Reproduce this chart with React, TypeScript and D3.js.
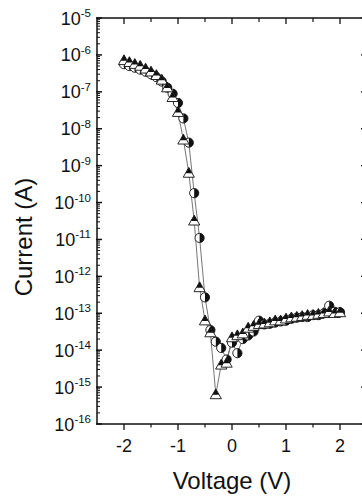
import * as d3 from 'd3'

// bias sweep (V) shared by both sweeps
const voltage = [
  -2.0, -1.9, -1.8, -1.7, -1.6, -1.5, -1.4, -1.3, -1.2, -1.1, -1.0,
  -0.9, -0.8, -0.7, -0.6, -0.5, -0.4, -0.3, -0.2, -0.1, 0.0,
  0.1, 0.2, 0.3, 0.4, 0.5, 0.6, 0.7, 0.8, 0.9, 1.0,
  1.1, 1.2, 1.3, 1.4, 1.5, 1.6, 1.7, 1.8, 1.9, 2.0,
]

// current (A), half-filled triangles
const currentTri = [
  7.1e-7, 6.3e-7, 5.6e-7, 5.0e-7, 4.2e-7, 3.5e-7, 2.8e-7, 2.1e-7, 1.3e-7, 7.1e-8, 2.8e-8,
  5.0e-9, 6.3e-10, 3.2e-11, 5.0e-13, 6.3e-14, 3.0e-14, 6.3e-16, 4.0e-15, 4.5e-15, 2.2e-14,
  2.5e-14, 2.8e-14, 4.0e-14, 4.5e-14, 5.0e-14, 5.2e-14, 5.6e-14, 6.3e-14, 6.3e-14, 7.1e-14,
  7.6e-14, 7.9e-14, 8.3e-14, 8.9e-14, 8.9e-14, 9.5e-14, 1.0e-13, 1.1e-13, 1.0e-13, 1.05e-13,
]

// current (A), half-filled circles
const currentCirc = [
  5.6e-7, 5.0e-7, 4.5e-7, 4.0e-7, 3.5e-7, 3.0e-7, 2.5e-7, 1.9e-7, 1.3e-7, 8.9e-8, 5.0e-8,
  1.9e-8, 4.2e-9, 1.8e-10, 1.1e-11, 2.7e-13, 3.5e-14, 1.7e-14, 1.15e-14, 5.6e-15, 1.6e-14,
  8.3e-15, 2.0e-14, 2.5e-14, 3.2e-14, 6.3e-14, 5.0e-14, 5.2e-14, 5.6e-14, 6.0e-14, 6.3e-14,
  7.1e-14, 7.6e-14, 7.9e-14, 7.9e-14, 8.9e-14, 8.9e-14, 1.0e-13, 1.6e-13, 1.1e-13, 1.07e-13,
]

const xTicks = [-2, -1, 0, 1, 2]
const xMinor = [-1.5, -0.5, 0.5, 1.5]
const yExponents = [-5, -6, -7, -8, -9, -10, -11, -12, -13, -14, -15, -16]

const W = 362
const H = 501
const FONT = '"Liberation Sans", Arial, sans-serif'

export default function App() {
  const x = d3.scaleLinear().domain([-2.5, 2.5]).range([97, 367])
  const y = d3.scaleLog().domain([1e-16, 1e-5]).range([424, 18])
  const [x0, x1] = x.range()
  const [y0, y1] = y.range()

  const line = d3.line<[number, number]>().x(d => x(d[0])).y(d => y(d[1]))
  const triPts = voltage.map((v, i) => [v, currentTri[i]] as [number, number])
  const circPts = voltage.map((v, i) => [v, currentCirc[i]] as [number, number])

  // minor log ticks
  const minorY: number[] = []
  yExponents.slice(0, -1).forEach(e => {
    for (let m = 2; m <= 9; m++) minorY.push(m * Math.pow(10, e - 1))
  })

  const r = 4.6
  const th = 5.6

  return (
    <svg width={W} height={H} style={{ position: 'absolute', left: 0, top: 0, background: '#fff' }}>
      {/* connecting lines */}
      <path d={line(circPts) ?? ''} fill="none" stroke="#666" strokeWidth={0.9} />
      <path d={line(triPts) ?? ''} fill="none" stroke="#666" strokeWidth={0.9} />

      {/* circles: right half black */}
      {circPts.map((p, i) => (
        <g key={'c' + i} transform={`translate(${x(p[0])},${y(p[1])})`}>
          <circle r={r} fill="#fff" stroke="#111" strokeWidth={0.9} />
          <path d={`M0,${-r}A${r},${r} 0 0 1 0,${r}Z`} fill="#111" />
        </g>
      ))}

      {/* triangles: top half black */}
      {triPts.map((p, i) => (
        <g key={'t' + i} transform={`translate(${x(p[0])},${y(p[1])})`}>
          <path d={`M0,${-th}L${th},${th * 0.75}L${-th},${th * 0.75}Z`} fill="#fff" stroke="#111" strokeWidth={0.9} />
          <path d={`M0,${-th}L${th * 0.57},${0.3}L${-th * 0.57},${0.3}Z`} fill="#111" />
        </g>
      ))}

      {/* frame */}
      <rect x={x0} y={y1} width={x1 - x0} height={y0 - y1} fill="none" stroke="#111" strokeWidth={1.5} />

      {/* bottom ticks (outward) + top ticks (inward) */}
      {xTicks.map(t => (
        <g key={'xt' + t}>
          <line x1={x(t)} x2={x(t)} y1={y0} y2={y0 + 6} stroke="#111" strokeWidth={1.3} />
          <line x1={x(t)} x2={x(t)} y1={y1} y2={y1 + 6} stroke="#111" strokeWidth={1.3} />
          <text x={x(t)} y={y0 + 28} textAnchor="middle" fontFamily={FONT} fontSize={18} fill="#111">
            {t}
          </text>
        </g>
      ))}
      {xMinor.map(t => (
        <g key={'xm' + t}>
          <line x1={x(t)} x2={x(t)} y1={y0} y2={y0 + 3.5} stroke="#111" strokeWidth={1.2} />
          <line x1={x(t)} x2={x(t)} y1={y1} y2={y1 + 4} stroke="#111" strokeWidth={1.2} />
        </g>
      ))}

      {/* left ticks (inward) with minor, right major ticks */}
      {minorY.map((v, i) => (
        <line key={'ym' + i} x1={x0} x2={x0 + 3} y1={y(v)} y2={y(v)} stroke="#111" strokeWidth={1} />
      ))}
      {yExponents.map(e => (
        <g key={'yt' + e}>
          <line x1={x0 - 1} x2={x0 + 5} y1={y(Math.pow(10, e))} y2={y(Math.pow(10, e))} stroke="#111" strokeWidth={1.5} />
          <line x1={x1} x2={x1 - 6} y1={y(Math.pow(10, e))} y2={y(Math.pow(10, e))} stroke="#111" strokeWidth={1.3} />
          <text x={91} y={y(Math.pow(10, e)) + 6.5} textAnchor="end" fontFamily={FONT} fontSize={18} fill="#111">
            <tspan>10</tspan>
            <tspan dy={-7.5} fontSize={11.5}>{e}</tspan>
          </text>
        </g>
      ))}

      {/* axis titles */}
      <text x={x(0)} y={489} textAnchor="middle" fontFamily={FONT} fontSize={24} fill="#111">
        Voltage (V)
      </text>
      <text
        transform={`translate(32,237) rotate(-90)`}
        textAnchor="middle"
        fontFamily={FONT}
        fontSize={24}
        fill="#111"
      >
        Current (A)
      </text>
    </svg>
  )
}
